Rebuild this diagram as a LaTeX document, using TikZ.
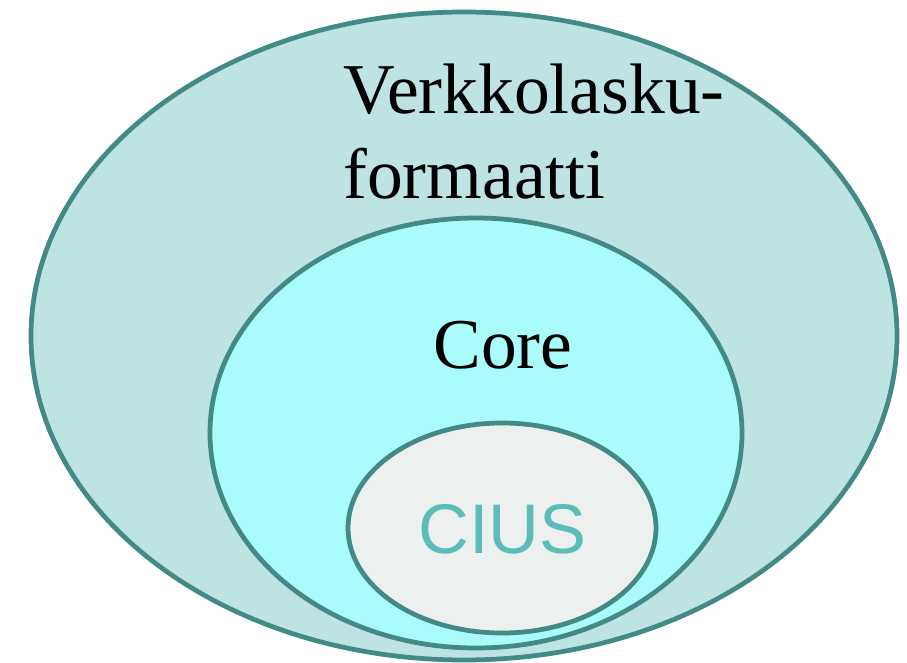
\documentclass[tikz,border=0pt]{standalone}
\usepackage{fontspec}
\setmainfont{Liberation Serif}
\setsansfont{Liberation Sans}
\definecolor{rim}{RGB}{67,138,135}
\definecolor{outerfill}{RGB}{189,227,226}
\definecolor{corefill}{RGB}{169,252,251}
\definecolor{ciusfill}{RGB}{236,240,239}
\definecolor{ciustext}{RGB}{91,189,185}

\begin{document}
\begin{tikzpicture}[x=0.02cm,y=-0.02cm,
    blob/.style={draw=rim,line width=2.7pt},
    label/.style={anchor=base west,inner sep=0pt,font=\fontsize{40.7}{48}\selectfont}]
        \useasboundingbox (0,0) rectangle (907,663);
        % nested sets
        \draw[blob,fill=outerfill] (464,336) ellipse [x radius=433,y radius=324];
        \draw[blob,fill=corefill] (476,433) ellipse [x radius=266,y radius=215];
        \draw[blob,fill=ciusfill] (502,528) ellipse [x radius=154,y radius=105];
        % labels
        \node[label] (verkko) at (343,113) {Verkkolasku-};
        \node[label] (format) at (343,198) {formaatti};
        \node[label] (core) at (433,368) {Core};
        \node[label,font=\sffamily\fontsize{40}{46}\selectfont,text=ciustext] (cius) at (418,553) {CIUS};
\end{tikzpicture}
\end{document}
